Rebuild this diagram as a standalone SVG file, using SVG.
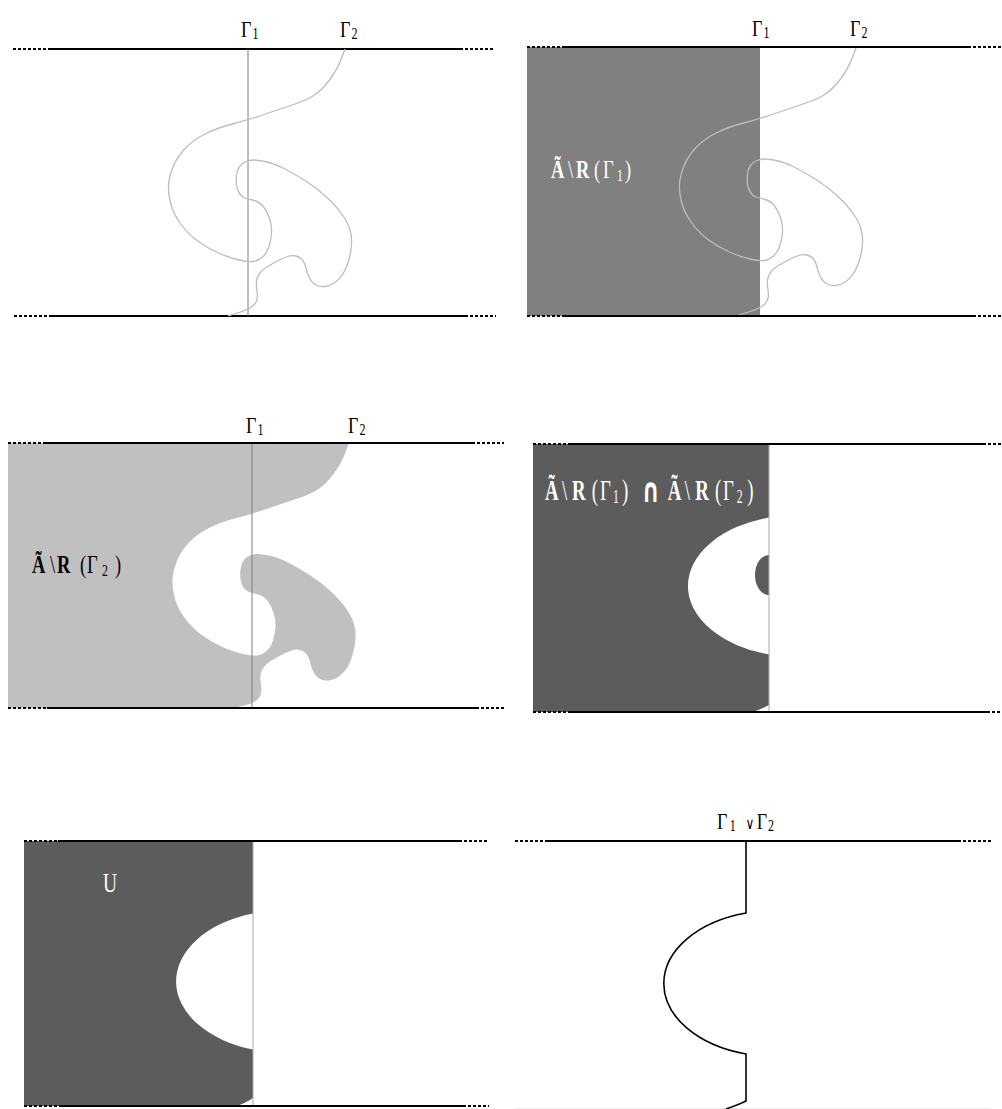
<svg xmlns="http://www.w3.org/2000/svg" width="1002" height="1109" viewBox="0 0 1002 1109">
<style>
.ln{stroke:#000;stroke-width:2;fill:none}
.dl{stroke:#000;stroke-width:2;stroke-dasharray:3 2;fill:none}
.g1{stroke:#7e7e7e;stroke-width:1;fill:none}
.g1l{stroke:#a8a8a8;stroke-width:1;fill:none}
.g2{stroke:#bdbdbd;stroke-width:1.3;fill:none}
.t{font-family:"Liberation Serif","Times New Roman","DejaVu Serif",serif;}
.gl{font-size:24px;fill:#000}
.sub{font-size:16px}
.b{font-weight:bold}
.w{fill:#fff}
.k{fill:#000}
.cap{font-family:"DejaVu Sans",sans-serif;font-weight:bold}
</style>
<defs>
<path id="gamma2" d="M 345 49 L 341 59.5 Q 337 70 329.5 80 Q 322 90 314.5 95 Q 307 100 295 104 Q 283 108 265.5 114 Q 248 120 232.5 124 Q 217 128 205 134 Q 193 140 185 148.5 Q 177 157 173 167 Q 169 177 168.5 185 Q 168 193 170.5 203 Q 173 213 180 223 Q 187 233 197 240.5 Q 207 248 218.5 253 Q 230 258 239 260 Q 248 262 253 261.5 Q 258 261 262.5 257 Q 267 253 269 246.5 Q 271 240 271.5 233.5 Q 272 227 270 220 Q 268 213 264 207.5 Q 260 202 254 200.5 Q 248 199 245 198 Q 242 197 239.5 193.5 Q 237 190 236.5 185 Q 236 180 236.5 175 Q 237 170 239.5 166.5 Q 242 163 246 161.5 Q 250 160 253.5 160 Q 257 160 265 161.5 Q 273 163 283 168 Q 293 173 305 180.5 Q 317 188 327 197.5 Q 337 207 342.5 215 Q 348 223 350 230 Q 352 237 351.5 244.5 Q 351 252 349 259.5 Q 347 267 343.5 273 Q 340 279 335 282.5 Q 330 286 325 286.5 Q 320 287 316 285 Q 312 283 309.5 278 Q 307 273 306 268 Q 305 263 302.5 260 Q 300 257 296 256 Q 292 255 287.5 256.5 Q 283 258 276.5 261.5 Q 270 265 266 267.5 Q 262 270 259.5 273.5 Q 257 277 256.5 281 Q 256 285 257 291 Q 258 297 256.5 301 Q 255 305 250 308 Q 245 311 228 316"/>
</defs>

<!-- Panel 1 -->
<g id="panel1">
  <line class="dl" x1="13" y1="49" x2="50" y2="49"/>
  <line class="ln" x1="50" y1="49" x2="460" y2="49"/>
  <line class="dl" x1="460" y1="49" x2="493" y2="49"/>
  <line class="dl" x1="14" y1="316" x2="50" y2="316"/>
  <line class="ln" x1="50" y1="316" x2="465" y2="316"/>
  <line class="dl" x1="465" y1="316" x2="496" y2="316"/>
  <line class="g1" x1="248" y1="49" x2="248" y2="316"/>
  <use href="#gamma2" class="g2"/>
  <text class="t gl" transform="translate(241,37) scale(0.75,1)">Γ<tspan class="sub" x="15.5" y="2">1</tspan></text>
  <text class="t gl" transform="translate(340,37) scale(0.75,1)">Γ<tspan class="sub" x="15.5" y="2">2</tspan></text>
</g>

<!-- Panel 2 -->
<g id="panel2">
  <rect x="527" y="47" width="233" height="269" fill="#808080"/>
  <use href="#gamma2" class="g2" transform="translate(511,-1)"/>
  <line class="dl" x1="527" y1="47" x2="562" y2="47"/>
  <line class="ln" x1="562" y1="47" x2="968" y2="47"/>
  <line class="dl" x1="968" y1="47" x2="1001" y2="47"/>
  <line class="dl" x1="527" y1="316" x2="562" y2="316"/>
  <line class="ln" x1="562" y1="316" x2="973" y2="316"/>
  <line class="dl" x1="973" y1="316" x2="1001" y2="316"/>
  <text class="t gl" transform="translate(752,36) scale(0.75,1)">Γ<tspan class="sub" x="15.5" y="2">1</tspan></text>
  <text class="t gl" transform="translate(850,36) scale(0.75,1)">Γ<tspan class="sub" x="15.5" y="2">2</tspan></text>
  <text class="t w" font-size="25" transform="translate(551,178) scale(0.74,1)"><tspan class="b" x="0">Ã</tspan><tspan x="23">\</tspan><tspan class="b" x="33.8">R</tspan><tspan x="58.1">(</tspan><tspan x="70.3">Γ</tspan><tspan x="89.2" y="3" font-size="16">1</tspan><tspan x="100" y="0">)</tspan></text>
</g>

<!-- Panel 3 -->
<g id="panel3">
  <path fill="#c0c0c0" transform="translate(4,394)" d="M 4 49 L 345 49 L 341 59.5 Q 337 70 329.5 80 Q 322 90 314.5 95 Q 307 100 295 104 Q 283 108 265.5 114 Q 248 120 232.5 124 Q 217 128 205 134 Q 193 140 185 148.5 Q 177 157 173 167 Q 169 177 168.5 185 Q 168 193 170.5 203 Q 173 213 180 223 Q 187 233 197 240.5 Q 207 248 218.5 253 Q 230 258 239 260 Q 248 262 253 261.5 Q 258 261 262.5 257 Q 267 253 269 246.5 Q 271 240 271.5 233.5 Q 272 227 270 220 Q 268 213 264 207.5 Q 260 202 254 200.5 Q 248 199 245 198 Q 242 197 239.5 193.5 Q 237 190 236.5 185 Q 236 180 236.5 175 Q 237 170 239.5 166.5 Q 242 163 246 161.5 Q 250 160 253.5 160 Q 257 160 265 161.5 Q 273 163 283 168 Q 293 173 305 180.5 Q 317 188 327 197.5 Q 337 207 342.5 215 Q 348 223 350 230 Q 352 237 351.5 244.5 Q 351 252 349 259.5 Q 347 267 343.5 273 Q 340 279 335 282.5 Q 330 286 325 286.5 Q 320 287 316 285 Q 312 283 309.5 278 Q 307 273 306 268 Q 305 263 302.5 260 Q 300 257 296 256 Q 292 255 287.5 256.5 Q 283 258 276.5 261.5 Q 270 265 266 267.5 Q 262 270 259.5 273.5 Q 257 277 256.5 281 Q 256 285 257 291 Q 258 297 256.5 301 Q 255 305 250 308 Q 245 311 228 314 L 4 314 Z"/>
  <line class="g1" x1="252" y1="443" x2="252" y2="708"/>
  <line class="dl" x1="8" y1="443" x2="46" y2="443"/>
  <line class="ln" x1="46" y1="443" x2="472" y2="443"/>
  <line class="dl" x1="472" y1="443" x2="504" y2="443"/>
  <line class="dl" x1="8" y1="708" x2="47" y2="708"/>
  <line class="ln" x1="47" y1="708" x2="476" y2="708"/>
  <line class="dl" x1="476" y1="708" x2="504" y2="708"/>
  <text class="t gl" transform="translate(246,433) scale(0.75,1)">Γ<tspan class="sub" x="15.5" y="2">1</tspan></text>
  <text class="t gl" transform="translate(348,433) scale(0.75,1)">Γ<tspan class="sub" x="15.5" y="2">2</tspan></text>
  <text class="t k" font-size="25" transform="translate(32,573) scale(0.74,1)"><tspan class="b" x="0">Ã</tspan><tspan x="24.3">\</tspan><tspan class="b" x="33.8">R</tspan><tspan x="64.9">(</tspan><tspan x="74.3">Γ</tspan><tspan x="94.6" y="3" font-size="16">2</tspan><tspan x="112.2" y="0">)</tspan></text>
</g>

<!-- Panel 4 -->
<g id="panel4">
  <path fill="#5c5c5c" d="M 533 444 H 769 V 517.5 A 110 71 0 0 0 769 654.5 V 705 Q 762 709 753 712 H 533 Z"/>
  <path fill="#5c5c5c" d="M 769 555 A 14 20 0 0 0 769 595 Z"/>
  <line class="g1l" x1="769" y1="444" x2="769" y2="712"/>
  <line class="dl" x1="533" y1="444" x2="568" y2="444"/>
  <line class="ln" x1="568" y1="444" x2="983" y2="444"/>
  <line class="dl" x1="983" y1="444" x2="1002" y2="444"/>
  <line class="dl" x1="533" y1="712" x2="570" y2="712"/>
  <line class="ln" x1="570" y1="712" x2="987" y2="712"/>
  <line class="dl" x1="987" y1="712" x2="1002" y2="712"/>
  <text class="t w" font-size="29" transform="translate(545,500) scale(0.65,1)"><tspan class="b" x="0">Ã</tspan><tspan x="26">\</tspan><tspan class="b" x="41.5">R</tspan><tspan x="72">(</tspan><tspan x="84.6">Γ</tspan><tspan x="104.6" y="3" font-size="18">1</tspan><tspan x="118.5" y="0">)</tspan><tspan class="cap" x="149" y="2" font-size="34">∩</tspan><tspan class="b" x="189" y="0">Ã</tspan><tspan x="215">\</tspan><tspan class="b" x="231">R</tspan><tspan x="261.5">(</tspan><tspan x="274">Γ</tspan><tspan x="295" y="3" font-size="18">2</tspan><tspan x="311" y="0">)</tspan></text>
</g>

<!-- Panel 5 -->
<g id="panel5">
  <path fill="#5c5c5c" d="M 24 841 H 253 V 913.5 A 108 71 0 0 0 253 1049.5 V 1098 Q 246 1103 236 1106 H 24 Z"/>
  <line class="g1l" x1="253" y1="841" x2="253" y2="1106"/>
  <line class="dl" x1="24" y1="841" x2="58" y2="841"/>
  <line class="ln" x1="58" y1="841" x2="459" y2="841"/>
  <line class="dl" x1="459" y1="841" x2="489" y2="841"/>
  <line class="dl" x1="24" y1="1106" x2="60" y2="1106"/>
  <line class="ln" x1="60" y1="1106" x2="463" y2="1106"/>
  <line class="dl" x1="463" y1="1106" x2="489" y2="1106"/>
  <text class="t w" font-size="27" transform="translate(103,892) scale(0.72,1)">U</text>
</g>

<!-- Panel 6 -->
<g id="panel6">
  <line class="dl" x1="515" y1="841" x2="545" y2="841"/>
  <line class="ln" x1="545" y1="841" x2="958" y2="841"/>
  <line class="dl" x1="958" y1="841" x2="991" y2="841"/>
  <line x1="515" y1="1108.5" x2="991" y2="1108.5" stroke="#ececec" stroke-width="1"/>
  <path fill="none" stroke="#000" stroke-width="1.6" d="M 746 841 V 913 A 111 73 0 0 0 746 1054 V 1101 Q 738 1105 726 1109"/>
  <text class="t gl" transform="translate(717,829) scale(0.75,1)"><tspan x="0">Γ</tspan><tspan class="sub" x="17" y="2">1</tspan><tspan x="38" y="0" font-size="16">∨</tspan><tspan x="53">Γ</tspan><tspan class="sub" x="68" y="2">2</tspan></text>
</g>
</svg>
